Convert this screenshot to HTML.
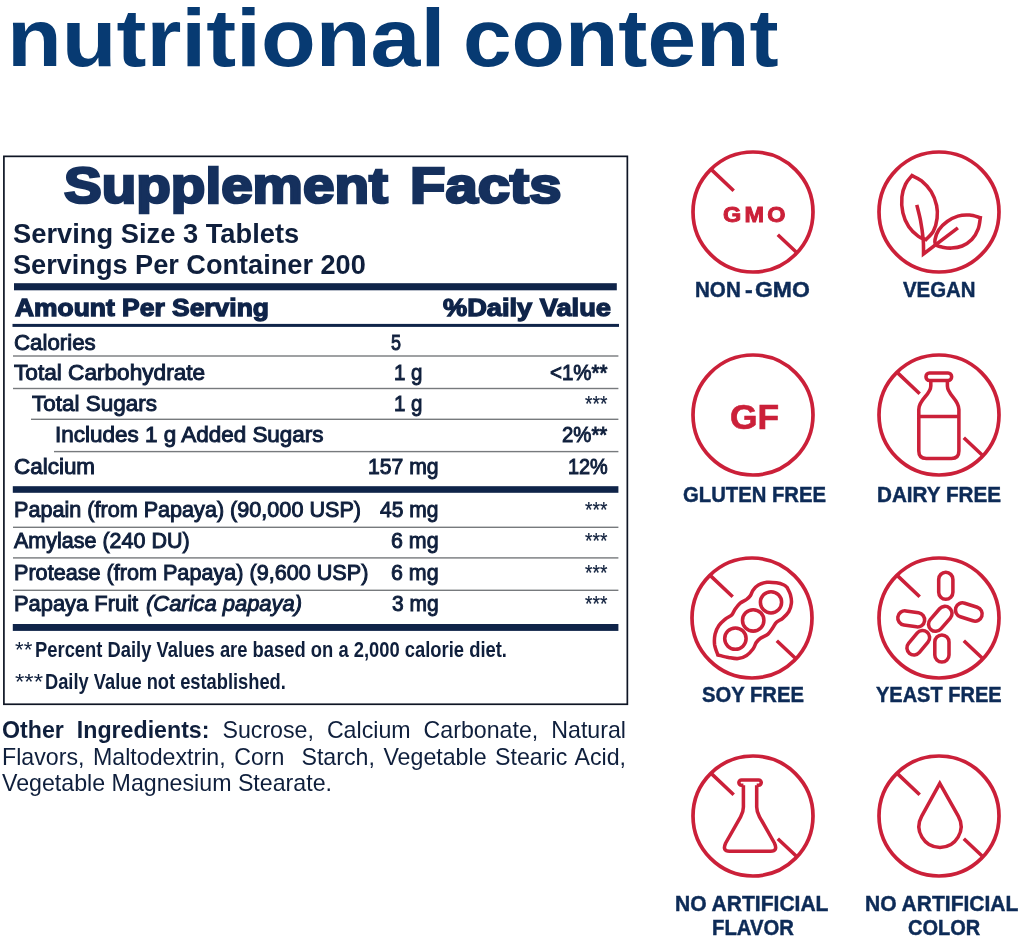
<!DOCTYPE html>
<html lang="en">
<head>
<meta charset="utf-8">
<title>nutritional content</title>
<style>
html,body{margin:0;padding:0;background:#fff}
body{width:1024px;height:937px;position:relative;overflow:hidden;font-family:'Liberation Sans', sans-serif}
.t{position:absolute;white-space:nowrap;line-height:1em;transform-origin:0 0;display:block}
h1,h2,p{margin:0;font-size:inherit;font-weight:inherit}
.lines{position:absolute;left:0;top:0}
.ic{position:absolute;fill:none;stroke:#cb2039;stroke-width:3.55}
.pl{position:absolute;left:2px;width:624px;font-size:23.2px;line-height:1em;color:#0f1f3c;white-space:nowrap;display:block}
.pl.j{white-space:normal;text-align:justify;text-align-last:justify;height:1em}
.pl b{color:#0f1f3c}
</style>
</head>
<body>
<h1>
<span class="t h1" style="left:7.03px;top:-3.01px;font-size:82px;transform:scale(1.0935,1);color:#073a72;font-weight:bold">nutritional</span>
<span class="t h1" style="left:462.80px;top:-3.01px;font-size:82px;transform:scale(1.0656,1);color:#073a72;font-weight:bold">content</span>
</h1>
<section class="facts">
<h2><span class="t title" style="left:63.54px;top:160.65px;font-size:50.5px;transform:scale(1.1204,1);color:#15305d;font-weight:bold;-webkit-text-stroke:2.6px #15305d">Supplement</span>
<span class="t title" style="left:410.25px;top:160.65px;font-size:50.5px;transform:scale(1.1477,1);color:#15305d;font-weight:bold;-webkit-text-stroke:2.6px #15305d">Facts</span></h2>
<span class="t serv" style="left:13.30px;top:220.84px;font-size:27px;transform:scale(1.0110,1);color:#0f1f3c;font-weight:bold">Serving Size 3 Tablets</span>
<span class="t serv" style="left:13.30px;top:251.84px;font-size:27px;transform:scale(1.0045,1);color:#0f1f3c;font-weight:bold">Servings Per Container 200</span>
<span class="t hdr" style="left:14.92px;top:296.28px;font-size:24px;transform:scale(1.1005,1);color:#0f2449;font-weight:bold;-webkit-text-stroke:1.3px #0f2449">Amount Per Serving</span>
<span class="t hdr" style="left:442.74px;top:296.28px;font-size:24px;transform:scale(1.1340,1);color:#0f2449;font-weight:bold;-webkit-text-stroke:1.3px #0f2449">%Daily Value</span>
<span class="t row" style="left:13.51px;top:330.52px;font-size:22.9px;transform:scale(0.9723,1);color:#0f1f3c;font-weight:normal;-webkit-text-stroke:1.0px #0f1f3c">Calories</span>
<span class="t row" style="left:390.79px;top:330.52px;font-size:22.9px;transform:scale(0.7846,1);color:#0f1f3c;font-weight:normal;-webkit-text-stroke:1.0px #0f1f3c">5</span>
<span class="t row" style="left:13.99px;top:361.32px;font-size:22.9px;transform:scale(0.9882,1);color:#0f1f3c;font-weight:normal;-webkit-text-stroke:1.0px #0f1f3c">Total Carbohydrate</span>
<span class="t row" style="left:393.75px;top:361.32px;font-size:22.9px;transform:scale(0.8942,1);color:#0f1f3c;font-weight:normal;-webkit-text-stroke:1.0px #0f1f3c">1 g</span>
<span class="t row" style="left:549.95px;top:361.32px;font-size:22.9px;transform:scale(0.8950,1);color:#0f1f3c;font-weight:normal;-webkit-text-stroke:1.0px #0f1f3c">&lt;1%**</span>
<span class="t row" style="left:31.79px;top:392.12px;font-size:22.9px;transform:scale(0.9813,1);color:#0f1f3c;font-weight:normal;-webkit-text-stroke:1.0px #0f1f3c">Total Sugars</span>
<span class="t row" style="left:393.75px;top:392.12px;font-size:22.9px;transform:scale(0.8942,1);color:#0f1f3c;font-weight:normal;-webkit-text-stroke:1.0px #0f1f3c">1 g</span>
<span class="t row" style="left:585.38px;top:392.12px;font-size:22.9px;transform:scale(0.8402,1);color:#0f1f3c;font-weight:normal;-webkit-text-stroke:0.2px #0f1f3c">***</span>
<span class="t row" style="left:55.13px;top:423.42px;font-size:22.9px;transform:scale(0.9816,1);color:#0f1f3c;font-weight:normal;-webkit-text-stroke:1.0px #0f1f3c">Includes 1 g Added Sugars</span>
<span class="t row" style="left:562.26px;top:423.42px;font-size:22.9px;transform:scale(0.8884,1);color:#0f1f3c;font-weight:normal;-webkit-text-stroke:1.0px #0f1f3c">2%**</span>
<span class="t row" style="left:13.51px;top:454.92px;font-size:22.9px;transform:scale(0.9803,1);color:#0f1f3c;font-weight:normal;-webkit-text-stroke:1.0px #0f1f3c">Calcium</span>
<span class="t row" style="left:367.94px;top:454.92px;font-size:22.9px;transform:scale(0.9244,1);color:#0f1f3c;font-weight:normal;-webkit-text-stroke:1.0px #0f1f3c">157 mg</span>
<span class="t row" style="left:568.07px;top:454.92px;font-size:22.9px;transform:scale(0.8689,1);color:#0f1f3c;font-weight:normal;-webkit-text-stroke:1.0px #0f1f3c">12%</span>
<span class="t row" style="left:13.53px;top:497.52px;font-size:22.9px;transform:scale(0.9437,1);color:#0f1f3c;font-weight:normal;-webkit-text-stroke:1.0px #0f1f3c">Papain (from Papaya) (90,000 USP)</span>
<span class="t row" style="left:380.16px;top:497.52px;font-size:22.9px;transform:scale(0.9172,1);color:#0f1f3c;font-weight:normal;-webkit-text-stroke:1.0px #0f1f3c">45 mg</span>
<span class="t row" style="left:585.38px;top:497.52px;font-size:22.9px;transform:scale(0.8402,1);color:#0f1f3c;font-weight:normal;-webkit-text-stroke:0.2px #0f1f3c">***</span>
<span class="t row" style="left:14.47px;top:529.12px;font-size:22.9px;transform:scale(0.9393,1);color:#0f1f3c;font-weight:normal;-webkit-text-stroke:1.0px #0f1f3c">Amylase (240 DU)</span>
<span class="t row" style="left:390.93px;top:529.12px;font-size:22.9px;transform:scale(0.9350,1);color:#0f1f3c;font-weight:normal;-webkit-text-stroke:1.0px #0f1f3c">6 mg</span>
<span class="t row" style="left:585.38px;top:529.12px;font-size:22.9px;transform:scale(0.8402,1);color:#0f1f3c;font-weight:normal;-webkit-text-stroke:0.2px #0f1f3c">***</span>
<span class="t row" style="left:13.53px;top:560.82px;font-size:22.9px;transform:scale(0.9442,1);color:#0f1f3c;font-weight:normal;-webkit-text-stroke:1.0px #0f1f3c">Protease (from Papaya) (9,600 USP)</span>
<span class="t row" style="left:390.93px;top:560.82px;font-size:22.9px;transform:scale(0.9350,1);color:#0f1f3c;font-weight:normal;-webkit-text-stroke:1.0px #0f1f3c">6 mg</span>
<span class="t row" style="left:585.38px;top:560.82px;font-size:22.9px;transform:scale(0.8402,1);color:#0f1f3c;font-weight:normal;-webkit-text-stroke:0.2px #0f1f3c">***</span>
<span class="t row" style="left:13.52px;top:592.32px;font-size:22.9px;transform:scale(0.9562,1);color:#0f1f3c;font-weight:normal;-webkit-text-stroke:1.0px #0f1f3c">Papaya Fruit</span>
<span class="t row" style="left:146.02px;top:592.32px;font-size:22.9px;transform:scale(0.9579,1);font-style:italic;color:#0f1f3c;font-weight:normal;-webkit-text-stroke:1.0px #0f1f3c">(Carica papaya)</span>
<span class="t row" style="left:391.86px;top:592.32px;font-size:22.9px;transform:scale(0.9168,1);color:#0f1f3c;font-weight:normal;-webkit-text-stroke:1.0px #0f1f3c">3 mg</span>
<span class="t row" style="left:585.38px;top:592.32px;font-size:22.9px;transform:scale(0.8402,1);color:#0f1f3c;font-weight:normal;-webkit-text-stroke:0.2px #0f1f3c">***</span>
<div class="fn"><span class="t fn1" style="left:14.80px;top:639.07px;font-size:22.6px;transform:scale(0.9836,1);color:#0f1f3c;font-weight:normal">**</span><span class="t fn1" style="left:35.49px;top:639.07px;font-size:22.6px;transform:scale(0.8134,1);color:#0f1f3c;font-weight:bold">Percent Daily Values are based on a 2,000 calorie diet.</span></div>
<div class="fn"><span class="t fn2" style="left:14.80px;top:670.77px;font-size:22.6px;transform:scale(1.0645,1);color:#0f1f3c;font-weight:normal">***</span><span class="t fn2" style="left:45.19px;top:670.77px;font-size:22.6px;transform:scale(0.8093,1);color:#0f1f3c;font-weight:bold">Daily Value not established.</span></div>
<svg class="lines" width="640" height="720" viewBox="0 0 640 720"><rect x="14" y="283.2" width="602.8" height="7.10" fill="#0f2449"/><rect x="12.5" y="323.9" width="606.5" height="3.00" fill="#0f2449"/><rect x="12.8" y="486.2" width="605.6" height="6.60" fill="#0f2449"/><rect x="12.8" y="624" width="605.6" height="6.90" fill="#0f2449"/><rect x="13" y="355.3" width="605.4" height="1.40" fill="#777a7d"/><rect x="13" y="387.8" width="605.4" height="1.40" fill="#777a7d"/><rect x="31" y="418.6" width="587.4" height="1.40" fill="#777a7d"/><rect x="54" y="450.90000000000003" width="564.4" height="1.40" fill="#777a7d"/><rect x="13" y="526.5999999999999" width="605.4" height="1.40" fill="#777a7d"/><rect x="13" y="557.1999999999999" width="605.4" height="1.40" fill="#777a7d"/><rect x="13" y="589.5999999999999" width="605.4" height="1.40" fill="#777a7d"/><rect x="3.9" y="156.35" width="623.45" height="547.90" fill="none" stroke="#0e1524" stroke-width="1.7"/></svg>
</section>
<p class="other">
<span class="pl j" style="top:718.76px"><b>Other Ingredients:</b> Sucrose, Calcium Carbonate, Natural</span><span class="pl j" style="top:745.56px">Flavors, Maltodextrin, Corn&nbsp; Starch, Vegetable Stearic Acid,</span><span class="pl" style="top:771.96px">Vegetable Magnesium Stearate.</span>
</p>
<section class="badges">
<div class="badge"><svg class="ic" style="left:690.9px;top:150.3px" width="124" height="124" viewBox="0 0 124 124"><circle cx="62" cy="62" r="60" stroke-width="3.7"/><path d="M20.4,19.6 L42.7,40.7 M86.8,84.7 L105.4,102.3"/></svg><span class="t ico" style="left:723.29px;top:204.98px;font-size:21.4px;transform:scale(1.0946,1);letter-spacing:3px;color:#cb2039;font-weight:bold;-webkit-text-stroke:0.9px #cb2039">GMO</span><div class="cap"><span class="t lab" style="left:695.25px;top:279.67px;font-size:21.3px;transform:scale(0.9671,1);color:#0d2b57;font-weight:bold;-webkit-text-stroke:0.45px #0d2b57">NON</span><span class="t lab" style="left:744.64px;top:279.97px;font-size:21.3px;transform:scale(1.0872,1);color:#0d2b57;font-weight:bold;-webkit-text-stroke:0.45px #0d2b57">-</span><span class="t lab" style="left:754.64px;top:279.67px;font-size:21.3px;transform:scale(1.0777,1);color:#0d2b57;font-weight:bold;-webkit-text-stroke:0.45px #0d2b57">GMO</span></div></div>
<div class="badge"><svg class="ic" style="left:877.4px;top:150.1px" width="124" height="124" viewBox="0 0 124 124"><circle cx="62" cy="62" r="60" stroke-width="3.7"/><path d="M35.0,25.6 C33.9,27.0 30.3,30.6 28.6,34.1 C26.9,37.6 25.3,42.1 24.9,46.9 C24.4,51.7 24.8,57.9 25.9,62.9 C27.0,67.9 29.2,72.9 31.8,76.8 C34.4,80.7 38.5,84.3 41.4,86.4 C44.2,88.5 47.6,89.1 48.9,89.6 C50.1,88.2 54.5,84.6 56.4,81.1 C58.3,77.5 59.6,72.6 60.1,68.3 C60.6,64.0 60.6,60.0 59.6,55.5 C58.6,51.0 56.7,45.7 54.2,41.6 C51.7,37.5 47.8,33.6 44.6,30.9 C41.4,28.2 36.6,26.5 35.0,25.6Z"/><path d="M39.8,54.9 C40.4,57.5 42.4,64.6 43.5,70.4 C44.6,76.2 45.7,84.0 46.2,89.6 C46.7,95.2 46.5,101.6 46.5,104.0 L80.9,77.9" stroke-linejoin="miter"/><path d="M103.3,67.7 C101.5,67.3 96.3,65.4 92.6,65.1 C88.9,64.8 84.6,65.0 80.9,66.1 C77.2,67.2 73.4,69.2 70.2,71.5 C67.0,73.8 63.7,77.0 61.7,80.0 C59.7,83.0 58.5,87.1 58.0,89.6 C57.5,92.1 58.4,94.0 58.5,94.9 C59.6,95.3 62.2,96.6 64.9,97.1 C67.6,97.6 71.1,98.3 74.5,98.1 C77.9,97.9 81.8,97.4 85.2,96.0 C88.6,94.6 92.1,92.4 94.8,89.6 C97.5,86.8 99.8,82.6 101.2,78.9 C102.6,75.2 103.0,69.6 103.3,67.7Z"/></svg><div class="cap"><span class="t lab" style="left:903.22px;top:279.67px;font-size:21.3px;transform:scale(0.9585,1);color:#0d2b57;font-weight:bold;-webkit-text-stroke:0.45px #0d2b57">VEGAN</span></div></div>
<div class="badge"><svg class="ic" style="left:691.4px;top:353.0px" width="124" height="124" viewBox="0 0 124 124"><circle cx="62" cy="62" r="60" stroke-width="3.7"/></svg><span class="t ico" style="left:729.58px;top:399.65px;font-size:34.2px;transform:scale(1.0348,1);color:#cb2039;font-weight:bold;-webkit-text-stroke:0.6px #cb2039">GF</span><div class="cap"><span class="t lab" style="left:682.91px;top:484.67px;font-size:21.3px;transform:scale(0.9521,1);color:#0d2b57;font-weight:bold;-webkit-text-stroke:0.45px #0d2b57">GLUTEN FREE</span></div></div>
<div class="badge"><svg class="ic" style="left:876.8px;top:353.0px" width="124" height="124" viewBox="0 0 124 124"><circle cx="62" cy="62" r="60" stroke-width="3.7"/><path d="M20.4,19.6 L42.7,40.7 M86.8,84.7 L105.4,102.3"/><rect x="49" y="20" width="25.6" height="7.4" rx="3.5"/><path d="M53.8,27.4 V33 C53.8,42 41.8,46 41.8,56.5 V98 Q41.8,105.5 49.3,105.5 H74.4 Q81.9,105.5 81.9,98 V56.5 C81.9,46 70.4,42 70.4,33 V27.4 M41.8,63.4 H81.9"/></svg><div class="cap"><span class="t lab" style="left:876.95px;top:484.67px;font-size:21.3px;transform:scale(0.9707,1);color:#0d2b57;font-weight:bold;-webkit-text-stroke:0.45px #0d2b57">DAIRY FREE</span></div></div>
<div class="badge"><svg class="ic" style="left:690.2px;top:556.1px" width="124" height="124" viewBox="0 0 124 124"><circle cx="62" cy="62" r="60" stroke-width="3.7"/><path d="M20.4,19.6 L42.7,40.7 M86.8,84.7 L105.4,102.3"/><path d="M27.8,98.9 C27.3,97.2 25.1,92.2 24.6,88.7 C24.2,85.2 24.4,81.3 25.1,78.1 C25.8,74.9 27.2,72.0 28.9,69.5 C30.6,67.0 33.2,64.9 35.3,63.1 C37.4,61.3 40.1,60.5 41.7,58.9 C43.3,57.3 43.5,55.5 44.9,53.5 C46.3,51.5 48.2,48.8 50.2,47.1 C52.2,45.4 54.9,44.6 56.6,43.4 C58.3,42.1 59.3,41.1 60.4,39.6 C61.5,38.1 61.7,36.1 63.0,34.3 C64.3,32.5 66.1,30.3 68.4,29.0 C70.7,27.7 73.9,26.7 76.9,26.3 C79.9,25.9 83.7,26.4 86.5,26.8 C89.3,27.2 92.2,28.2 94.0,29.0 C95.8,29.8 96.7,31.2 97.2,31.6 C97.7,32.8 99.7,36.0 100.4,38.6 C101.1,41.2 101.7,44.2 101.4,47.1 C101.1,50.0 100.2,53.2 98.8,55.7 C97.4,58.2 95.0,60.3 92.9,62.1 C90.9,63.9 88.2,64.7 86.5,66.3 C84.8,67.9 84.2,69.7 82.8,71.7 C81.4,73.7 80.0,76.3 78.0,78.1 C76.0,79.9 72.5,80.9 70.5,82.3 C68.5,83.7 67.5,84.8 66.2,86.6 C65.0,88.4 64.6,90.9 63.0,93.0 C61.4,95.1 59.1,97.8 56.6,99.4 C54.1,101.0 51.1,102.2 48.1,102.6 C45.1,102.9 41.9,102.1 38.5,101.5 C35.1,100.9 29.6,99.3 27.8,98.9Z"/><circle cx="45.4" cy="82.6" r="10.7"/><circle cx="63.2" cy="64.4" r="10.7"/><circle cx="81" cy="46.3" r="10.6"/></svg><div class="cap"><span class="t lab" style="left:702.01px;top:684.57px;font-size:21.3px;transform:scale(0.9496,1);color:#0d2b57;font-weight:bold;-webkit-text-stroke:0.45px #0d2b57">SOY FREE</span></div></div>
<div class="badge"><svg class="ic" style="left:877.0px;top:556.1px" width="124" height="124" viewBox="0 0 124 124"><circle cx="62" cy="62" r="60" stroke-width="3.7"/><path d="M20.4,19.6 L42.7,40.7 M86.8,84.7 L105.4,102.3"/><rect x="55.3" y="22.7" width="27" height="14.2" rx="7.1" transform="rotate(90 68.8 29.8)"/><rect x="78.1" y="48.9" width="27.4" height="14.2" rx="7.1" transform="rotate(18 91.8 56)"/><rect x="20.7" y="55.8" width="27" height="14.2" rx="7.1" transform="rotate(8.5 34.2 62.9)"/><rect x="49.0" y="55.7" width="28.5" height="14.2" rx="7.1" transform="rotate(-49 63.3 62.8)"/><rect x="27.5" y="79.6" width="27.5" height="14.2" rx="7.1" transform="rotate(-50 41.3 86.7)"/><rect x="51.4" y="85.4" width="27" height="14.2" rx="7.1" transform="rotate(90 64.9 92.5)"/></svg><div class="cap"><span class="t lab" style="left:876.41px;top:684.57px;font-size:21.3px;transform:scale(0.9391,1);color:#0d2b57;font-weight:bold;-webkit-text-stroke:0.45px #0d2b57">YEAST FREE</span></div></div>
<div class="badge"><svg class="ic" style="left:691.2px;top:754.0px" width="124" height="124" viewBox="0 0 124 124"><circle cx="62" cy="62" r="60" stroke-width="3.7"/><path d="M20.4,19.6 L42.7,40.7 M86.8,84.7 L105.4,102.3"/><path d="M52.4,31.2 H50.5 a2.65,2.65 0 0 1 0,-5.3 H67.6 a2.65,2.65 0 0 1 0,5.3 H65.7 M52.4,31.2 V53 Q52.4,58 49.6,62.8 L34.6,89.2 Q31,97.3 38.5,97.3 H79.6 Q87.1,97.3 83.5,89.2 L68.5,62.8 Q65.7,58 65.7,53 V31.2"/></svg><div class="cap"><span class="t lab" style="left:674.93px;top:894.37px;font-size:21.3px;transform:scale(0.9878,1);color:#0d2b57;font-weight:bold;-webkit-text-stroke:0.45px #0d2b57">NO ARTIFICIAL</span> <span class="t lab" style="left:712.26px;top:917.57px;font-size:21.3px;transform:scale(0.9525,1);color:#0d2b57;font-weight:bold;-webkit-text-stroke:0.45px #0d2b57">FLAVOR</span></div></div>
<div class="badge"><svg class="ic" style="left:877.0px;top:754.0px" width="124" height="124" viewBox="0 0 124 124"><circle cx="62" cy="62" r="60" stroke-width="3.7"/><path d="M20.4,19.6 L42.7,40.7 M86.8,84.7 L105.4,102.3"/><path d="M62.8,29.3 L44.6,62.3 A21,21 0 1 0 81.4,62.3 Z" stroke-linejoin="miter"/></svg><div class="cap"><span class="t lab" style="left:865.13px;top:894.37px;font-size:21.3px;transform:scale(0.9871,1);color:#0d2b57;font-weight:bold;-webkit-text-stroke:0.45px #0d2b57">NO ARTIFICIAL</span> <span class="t lab" style="left:907.91px;top:917.57px;font-size:21.3px;transform:scale(0.9393,1);color:#0d2b57;font-weight:bold;-webkit-text-stroke:0.45px #0d2b57">COLOR</span></div></div>
</section>
</body>
</html>
